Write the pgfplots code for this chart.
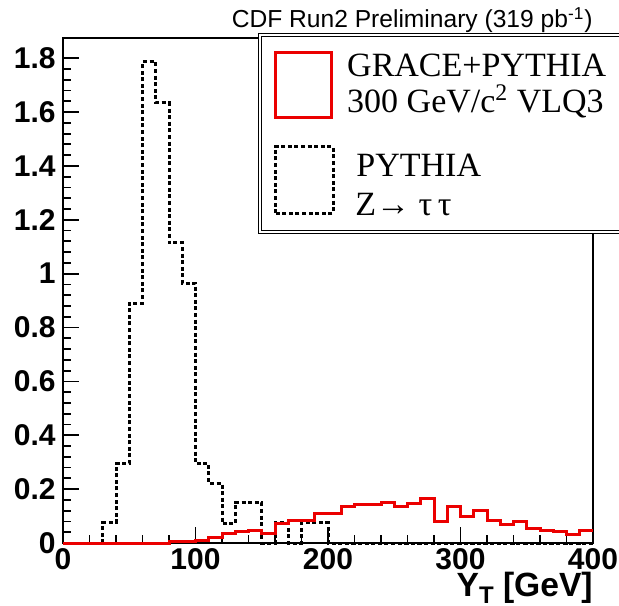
\documentclass[border=0pt]{standalone}
\usepackage{pgfplots}
\pgfplotsset{compat=1.18}
\usepackage{fontspec}
\setmainfont{Liberation Sans}
\newfontfamily\serif{Liberation Serif}
\definecolor{rootred}{RGB}{235,0,0}
\begin{document}
\begin{tikzpicture}
\useasboundingbox (-31.5pt,-31pt) rectangle (278pt,271.5pt);
\begin{axis}[
  at={(0,0)}, anchor=south west,
  scale only axis, width=265pt, height=252.5pt,
  xmin=0, xmax=400, ymin=0, ymax=1.875,
  xtick={0,100,200,300,400},
  ytick={0,0.2,0.4,0.6,0.8,1,1.2,1.4,1.6,1.8},
  minor x tick num=4, minor y tick num=4,
  tick pos=left, tick align=inside,
  major tick length=8pt, minor tick length=4pt,
  every tick/.style={black, line width=0.9pt},
  axis line style={line width=1pt},
  clip=false,
  /pgf/number format/assume math mode=true,
  ticklabel style={font=\fontsize{15}{15}\bfseries\selectfont, inner sep=0pt},
  xticklabel style={yshift=-2.5pt},
  yticklabel style={xshift=-3.5pt},
]
% PYTHIA Z -> tau tau (dashed)
\addplot[black, line width=1.5pt, dash pattern=on 2pt off 1.3pt, const plot] coordinates {
(0,0) (10,0) (20,0) (30,0.075) (40,0.295) (50,0.89) (60,1.786) (70,1.635)
(80,1.114) (90,0.965) (100,0.295) (110,0.222) (120,0.073) (130,0.15) (140,0.15)
(150,0) (160,0.075) (170,0) (180,0.075) (190,0.075) (200,0) (210,0) (220,0)
(230,0) (240,0) (250,0) (260,0) (270,0) (280,0) (290,0) (300,0) (310,0) (320,0)
(330,0) (340,0) (350,0) (360,0) (370,0) (380,0) (390,0) (400,0)
};
% GRACE+PYTHIA 300 GeV VLQ3 (red)
\addplot[rootred, line width=1.5pt, const plot] coordinates {
(0,0) (10,0) (20,0) (30,0) (40,0) (50,0) (60,0) (70,0)
(80,0.004) (90,0.006) (100,0.01) (110,0.022) (120,0.035) (130,0.042) (140,0.045)
(150,0.036) (160,0.072) (170,0.082) (180,0.082) (190,0.11) (200,0.11) (210,0.135)
(220,0.143) (230,0.143) (240,0.15) (250,0.135) (260,0.145) (270,0.165) (280,0.08)
(290,0.135) (300,0.1) (310,0.121) (320,0.082) (330,0.067) (340,0.079) (350,0.055)
(360,0.047) (370,0.041) (380,0.032) (390,0.045) (400,0.045)
};
\end{axis}
% x axis title
\node[anchor=base east, inner sep=0pt, font=\fontsize{16.8}{16.8}\bfseries\selectfont] at (265pt,-26.5pt)
  {Y\raisebox{-0.22em}{\fontsize{12}{12}\bfseries\selectfont T} [GeV]};
% top title
\node[anchor=base east, inner sep=0pt, font=\fontsize{12.3}{12.3}\selectfont] at (265pt,257.5pt)
  {CDF Run2 Preliminary (319 pb\textsuperscript{-1})};
% legend box
\fill[white] (98pt,155pt) rectangle (300pt,254.5pt);
\draw[black, line width=0.5pt, double, double distance=1.2pt] (98.5pt,155.5pt) rectangle (300pt,254pt);
\draw[rootred, line width=1.5pt] (106pt,212.5pt) rectangle (134.3pt,245pt);
\draw[black, line width=1.5pt, dash pattern=on 2pt off 1.3pt] (106pt,164.9pt) rectangle (135pt,198.1pt);
\begin{scope}[every node/.style={anchor=base west, inner sep=0pt, font=\serif\fontsize{17}{17}\selectfont}]
\node at (141.9pt,233.2pt) {GRACE+PYTHIA};
\node at (141.9pt,215pt) {300 GeV/c\textsuperscript{2} VLQ3};
\node at (146.5pt,183.2pt) {PYTHIA};
\node at (146pt,163.5pt) {Z→ τ\,τ};
\end{scope}
\end{tikzpicture}
\end{document}
